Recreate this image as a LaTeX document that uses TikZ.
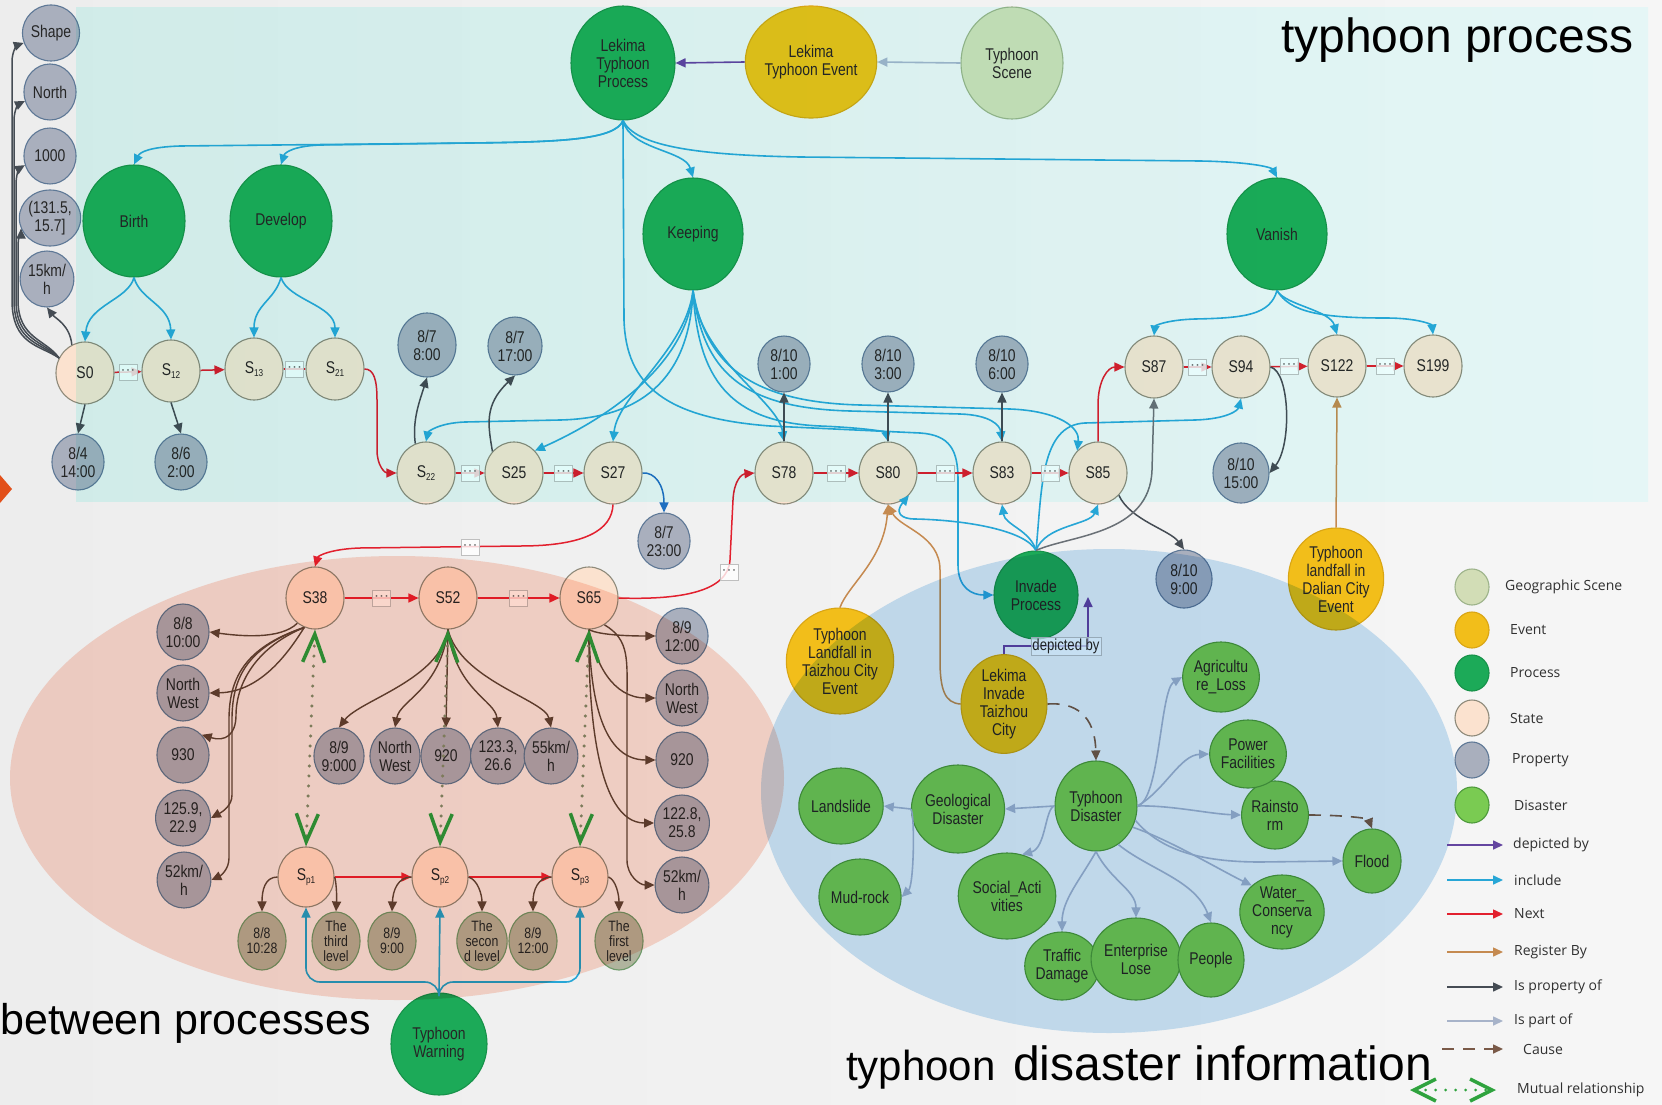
\documentclass[tikz,border=0pt]{standalone}
\usepackage{fontspec}
\setmainfont{Liberation Sans}
\newfontfamily\nodefont[FakeStretch=0.82]{Liberation Sans}
\newfontfamily\legfont{Open Sans}
\usetikzlibrary{shapes.geometric,arrows.meta,calc}

\definecolor{cBgL}{HTML}{EDEDED}
\definecolor{cBgR}{HTML}{F6F6F6}
\definecolor{cProc}{HTML}{1CAA58}
\definecolor{cProcB}{HTML}{17924A}
\definecolor{cEvt}{HTML}{F2BE1A}
\definecolor{cEvtB}{HTML}{D9A514}
\definecolor{cGeo}{HTML}{D2DDB6}
\definecolor{cGeoB}{HTML}{9DB38A}
\definecolor{cState}{HTML}{FBE2CF}
\definecolor{cStateB}{HTML}{8E8A7A}
\definecolor{cProp}{HTML}{A9AFBD}
\definecolor{cPropB}{HTML}{5E7896}
\definecolor{cLev}{HTML}{B0B49E}
\definecolor{cLevB}{HTML}{6E9A6A}
\definecolor{cDis}{HTML}{7ACB52}
\definecolor{cDisB}{HTML}{4E9A3C}
\definecolor{cInc}{HTML}{27A6D6}
\definecolor{cNext}{HTML}{E2202E}
\definecolor{cReg}{HTML}{C58A50}
\definecolor{cIsProp}{HTML}{454C54}
\definecolor{cIsPropB}{HTML}{5E4636}
\definecolor{cPart}{HTML}{A7B3C9}
\definecolor{cCause}{HTML}{7A5A48}
\definecolor{cDep}{HTML}{6445A0}
\definecolor{cMut}{HTML}{2FA33E}
\definecolor{cMutDot}{HTML}{7E9070}
\definecolor{cBlueArr}{HTML}{1F6FC0}
\definecolor{cCyanL}{HTML}{E0FDFA}
\definecolor{cCyanR}{HTML}{EEFFFF}
\definecolor{cSalmon}{HTML}{FDDACF}
\definecolor{cBlue}{HTML}{CAE3F6}
\definecolor{cOrange}{HTML}{E2501A}
\definecolor{cLegTxt}{HTML}{303030}

\newcommand\ndfont{\nodefont\fontsize{17}{18}\selectfont}
\newcommand\ssub[1]{\raisebox{-3pt}{\fontsize{10}{10}\selectfont#1}}

\begin{document}
\begin{tikzpicture}[x=1pt,y=-1pt,
  nd/.style={ellipse, inner sep=0pt, align=center, font=\ndfont, text=black!85, line width=1.1pt},
  sz/.style 2 args={minimum width=#1pt, minimum height=#2pt},
  procN/.style={nd, fill=cProc, draw=cProcB},
  evtN/.style={nd, fill=cEvt, draw=cEvtB},
  geoN/.style={nd, fill=cGeo, draw=cGeoB},
  stateN/.style={nd, fill=cState, draw=cStateB, sz={58}{62}},
  propN/.style={nd, fill=cProp, draw=cPropB, sz={52}{56}},
  levN/.style={nd, fill=cLev, draw=cLevB, sz={48}{58}, font=\nodefont\fontsize{15}{15}\selectfont},
  disN/.style={nd, fill=cDis, draw=cDisB},
  dotbox/.style={rectangle, inner sep=0pt, minimum width=18pt, minimum height=16pt, fill=white, fill opacity=0.8, text opacity=1, draw=black!25, line width=0.6pt, font=\fontsize{15}{15}\selectfont, text=black!60},
  dlab/.style={rectangle, inner sep=1.5pt, fill=white, fill opacity=0.7, text opacity=1, draw=black!25, line width=0.5pt, font=\nodefont\fontsize{16}{16}\selectfont, text=black!85},
  arr/.style={-{Triangle[length=10pt,width=9pt]}},
  incl/.style={arr, draw=cInc, line width=1.6pt},
  nxt/.style={arr, draw=cNext, line width=1.5pt},
  nxtplain/.style={draw=cNext, line width=1.5pt},
  ispr/.style={arr, draw=cIsProp, line width=1.5pt},
  isprb/.style={arr, draw=cIsPropB, line width=1.4pt},
  prt/.style={arr, draw=cPart, line width=1.6pt},
  reg/.style={arr, draw=cReg, line width=1.5pt},
  cse/.style={arr, draw=cCause, line width=1.6pt, dash pattern=on 12pt off 9pt},
  dep/.style={arr, draw=cDep, line width=1.6pt},
  mut/.style={draw=cMutDot, line width=3.4pt, line cap=round, dash pattern=on 0pt off 10pt,
    {Straight Barb[color=cMut,line width=3.5pt,length=28pt,width=22pt]}-{Straight Barb[color=cMut,line width=3.5pt,length=28pt,width=22pt]}},
  mutleg/.style={draw=cMut, line width=3pt, line cap=round, dash pattern=on 0pt off 10pt,
    {Straight Barb[color=cMut,line width=3.5pt,length=22pt,width=22pt]}-{Straight Barb[color=cMut,line width=3.5pt,length=22pt,width=22pt]}},
  legtxt/.style={anchor=west, inner sep=0pt, font=\legfont\fontsize{14}{16}\selectfont, text=cLegTxt},
  bigtxt/.style={anchor=base west, inner sep=0pt, text=black}
]
\useasboundingbox (0,0) rectangle (1662,1105);
\shade[left color=cBgL, right color=cBgR] (0,0) rectangle (1662,1105);
\fill[cOrange] (0,475) -- (12,489) -- (0,503) -- cycle;

% ---------- top: process, event, scene
\node[procN,sz={104}{114}] (ltp) at (623,63) {Lekima\\Typhoon\\Process};
\node[evtN,sz={102}{112}] (lte) at (811,62) {Lekima\\Typhoon Event};
\node[geoN,sz={102}{112}] (ts) at (1012,63) {Typhoon\\Scene};

\node[procN,sz={102}{112}] (birth) at (134,221) {Birth};
\node[procN,sz={102}{112}] (develop) at (281,221) {Develop};
\node[procN,sz={100}{112}] (keeping) at (693,234) {Keeping};
\node[procN,sz={100}{112}] (vanish) at (1277,234) {Vanish};

% ---------- property column on the left
\node[propN] (pshape) at (51,33) {Shape};
\node[propN] (pnorth) at (50,92) {North};
\node[propN] (p1000) at (50,156) {1000};
\node[propN] (pcoord) at (50,218) {(131.5,\\15.7]};
\node[propN] (pspeed) at (47,279) {15km/\\h};

% ---------- states, upper chain
\node[stateN] (s0) at (85,373) {S0};
\node[stateN] (s12) at (171,371) {S\ssub{12}};
\node[stateN] (s13) at (254,369) {S\ssub{13}};
\node[stateN] (s21) at (335,369) {S\ssub{21}};
\node[stateN] (s22) at (426,473) {S\ssub{22}};
\node[stateN] (s25) at (514,473) {S25};
\node[stateN] (s27) at (613,473) {S27};
\node[stateN] (s78) at (784,473) {S78};
\node[stateN] (s80) at (888,473) {S80};
\node[stateN] (s83) at (1002,473) {S83};
\node[stateN] (s85) at (1098,473) {S85};
\node[stateN] (s87) at (1154,367) {S87};
\node[stateN] (s94) at (1241,367) {S94};
\node[stateN] (s122) at (1337,366) {S122};
\node[stateN] (s199) at (1433,366) {S199};

% ---------- time properties
\node[propN] (p84) at (78,462) {8/4\\14:00};
\node[propN] (p86) at (181,462) {8/6\\2:00};
\node[propN,sz={58}{64}] (p878) at (427,345) {8/7\\8:00};
\node[propN,sz={54}{58}] (p8717) at (515,346) {8/7\\17:00};
\node[propN] (p8723) at (664,541) {8/7\\23:00};
\node[propN] (p8101) at (784,364) {8/10\\1:00};
\node[propN] (p8103) at (888,364) {8/10\\3:00};
\node[propN] (p8106) at (1002,364) {8/10\\6:00};
\node[propN,sz={56}{60}] (p81015) at (1241,473) {8/10\\15:00};
\node[propN,sz={56}{58}] (p8109) at (1184,579) {8/10\\9:00};

% ---------- events and invade process
\node[evtN,sz={92}{106}] (evtz) at (840,661) {Typhoon\\Landfall in\\Taizhou City\\Event};
\node[evtN,sz={86}{92}] (evinv) at (1004,704) {Lekima\\Invade\\Taizhou\\City};
\node[evtN,sz={92}{102}] (evdl) at (1336,579) {Typhoon\\landfall in\\Dalian City\\Event};
\node[procN,sz={84}{88}] (invade) at (1036,595) {Invade\\Process};

% ---------- warning process and its states
\node[stateN] (s38) at (315,598) {S38};
\node[stateN] (s52) at (448,598) {S52};
\node[stateN] (s65) at (589,598) {S65};
\node[stateN,sz={56}{60}] (sp1) at (306,877) {S\ssub{p1}};
\node[stateN,sz={56}{60}] (sp2) at (440,877) {S\ssub{p2}};
\node[stateN,sz={56}{60}] (sp3) at (580,877) {S\ssub{p3}};
\node[procN,sz={96}{102}] (warning) at (439,1044) {Typhoon\\Warning};

\node[propN] (a1) at (183,632) {8/8\\10:00};
\node[propN] (a2) at (183,693) {North\\West};
\node[propN] (a3) at (183,755) {930};
\node[propN] (a4) at (183,818) {125.9,\\22.9};
\node[propN] (a5) at (184,880) {52km/\\h};

\node[propN,sz={50}{56}] (b1) at (339,756) {8/9\\9:000};
\node[propN,sz={50}{56}] (b2) at (395,756) {North\\West};
\node[propN,sz={50}{56}] (b3) at (446,756) {920};
\node[propN,sz={50}{56}] (b4) at (498,756) {123.3,\\26.6};
\node[propN,sz={50}{56}] (b5) at (551,756) {55km/\\h};

\node[propN] (c1) at (682,636) {8/9\\12:00};
\node[propN] (c2) at (682,698) {North\\West};
\node[propN] (c3) at (682,760) {920};
\node[propN] (c4) at (682,823) {122.8,\\25.8};
\node[propN] (c5) at (682,885) {52km/\\h};

\node[levN] (d1) at (262,941) {8/8\\10:28};
\node[levN] (d2) at (336,941) {The\\third\\level};
\node[levN] (d3) at (392,941) {8/9\\9:00};
\node[levN] (d4) at (482,941) {The\\secon\\d level};
\node[levN] (d5) at (533,941) {8/9\\12:00};
\node[levN] (d6) at (619,941) {The\\first\\level};

% ---------- disaster information
\node[disN,sz={82}{90}] (tdis) at (1096,806) {Typhoon\\Disaster};
\node[disN,sz={74}{88}] (gdis) at (958,809) {Geological\\Disaster};
\node[disN,sz={70}{76}] (slide) at (841,806) {Landslide};
\node[disN,sz={70}{76}] (mud) at (860,897) {Mud-rock};
\node[disN,sz={76}{86}] (social) at (1007,896) {Social\_Acti\\vities};
\node[disN,sz={64}{68}] (traffic) at (1062,966) {Traffic\\Damage};
\node[disN,sz={74}{82}] (enterprise) at (1136,959) {Enterprise\\Lose};
\node[disN,sz={66}{74}] (people) at (1211,960) {People};
\node[disN,sz={66}{74}] (water) at (1282,912) {Water\_\\Conserva\\ncy};
\node[disN,sz={58}{64}] (flood) at (1372,861) {Flood};
\node[disN,sz={64}{68}] (rain) at (1275,815) {Rainsto\\rm};
\node[disN,sz={62}{68}] (power) at (1248,754) {Power\\Facilities};
\node[disN,sz={60}{70}] (agri) at (1221,677) {Agricultu\\re\_Loss};

% ---------- include links
\draw[incl] (ltp.south) .. controls (615,140) and (560,142) .. (470,143) -- (180,146) .. controls (150,147) and (140,152) .. (birth.north);
\draw[incl] (ltp.south) .. controls (615,140) and (560,142) .. (470,143) -- (320,145) .. controls (295,146) and (285,152) .. (develop.north);
\draw[incl] (ltp.south) .. controls (630,150) and (685,150) .. (keeping.north);
\draw[incl] (ltp.south) .. controls (635,145) and (690,155) .. (800,157) -- (1200,161) .. controls (1255,162) and (1272,168) .. (vanish.north);
\draw[incl] (ltp.south) -- (624,320) .. controls (626,385) and (665,418) .. (770,426) -- (920,433) .. controls (950,435) and (958,450) .. (958,480) -- (958,565) .. controls (958,588) and (972,595) .. (invade.west);

\draw[incl] (birth.south) .. controls (128,300) and (88,305) .. (s0.north);
\draw[incl] (birth.south) .. controls (140,300) and (170,305) .. (s12.north);
\draw[incl] (develop.south) .. controls (275,300) and (254,305) .. (s13.north);
\draw[incl] (develop.south) .. controls (288,300) and (335,305) .. (s21.north);

\draw[incl] (keeping.south) .. controls (690,370) and (650,418) .. (560,420) -- (465,422) .. controls (438,423) and (428,432) .. (s22.north);
\draw[incl] (keeping.south) .. controls (688,360) and (615,415) .. (s25.north east);
\draw[incl] (keeping.south) .. controls (686,350) and (618,395) .. (s27.north);
\draw[incl] (keeping.south) .. controls (700,360) and (778,400) .. (s78.north);
\draw[incl] (keeping.south) .. controls (698,380) and (730,422) .. (820,426) .. controls (868,428) and (886,432) .. (s80.north);
\draw[incl] (keeping.south) .. controls (703,370) and (740,408) .. (850,411) -- (960,414) .. controls (990,415) and (1000,425) .. (s83.north);
\draw[incl] (keeping.south) .. controls (705,360) and (745,402) .. (860,405) -- (1010,409) .. controls (1060,411) and (1080,428) .. (s85.north west);

\draw[incl] (vanish.south) .. controls (1270,315) and (1245,318) .. (1195,319) .. controls (1165,320) and (1155,326) .. (s87.north);
\draw[incl] (vanish.south) .. controls (1285,305) and (1330,310) .. (s122.north);
\draw[incl] (vanish.south) .. controls (1290,312) and (1320,318) .. (1385,318) .. controls (1420,318) and (1432,325) .. (s199.north);

\draw[incl] (invade.north) .. controls (1025,530) and (965,520) .. (915,519) .. controls (900,519) and (895,512) .. (s80.south east);
\draw[incl] (invade.north) .. controls (1030,530) and (1005,525) .. (s83.south);
\draw[incl] (invade.north) .. controls (1045,525) and (1090,525) .. (s85.south);
\draw[incl] (invade.north) .. controls (1042,490) and (1040,425) .. (1085,423) -- (1195,420) .. controls (1228,419) and (1238,410) .. (s94.south);

\draw[incl, rounded corners=14pt] (warning.north) -- (439,982) -| (sp1.south);
\draw[incl] (warning.north) -- (sp2.south);
\draw[incl, rounded corners=14pt] (warning.north) -- (439,982) -| (sp3.south);

% ---------- next links
\draw[nxt] (s0) -- node[dotbox] (k1) {···} (s12);
\draw[nxt] (s12) -- (s13);
\draw[nxtplain] (s13) -- node[dotbox] (k2) {···} (s21);
\draw[nxt] (s21.east) .. controls (374,369) and (377,380) .. (377,400) -- (377,450) .. controls (377,466) and (385,473) .. (s22.west);
\draw[nxt] (s22) -- node[dotbox] (k3) {···} (s25);
\draw[nxt] (s25) -- node[dotbox] (k4) {···} (s27);
\draw[nxt] (s27.south) .. controls (612,530) and (585,546) .. (520,546) -- (360,548) .. controls (330,549) and (318,556) .. (s38.north);
\node[dotbox] (k5) at (470,547) {···};
\draw[nxt] (s38) -- node[dotbox] (k6) {···} (s52);
\draw[nxt] (s52) -- node[dotbox] (k7) {···} (s65);
\draw[nxt] (s65.east) .. controls (680,600) and (728,592) .. (730,560) -- (733,500) .. controls (734,480) and (742,474) .. (s78.west);
\node[dotbox] (k8) at (729,572) {···};
\draw[nxt] (s78) -- node[dotbox] (k9) {···} (s80);
\draw[nxt] (s80) -- node[dotbox] (k10) {···} (s83);
\draw[nxt] (s83) -- node[dotbox] (k11) {···} (s85);
\draw[nxt] (s85.north) -- (1098,405) .. controls (1098,380) and (1108,367) .. (s87.west);
\draw[nxt] (s87) -- node[dotbox] (k12) {···} (s94);
\draw[nxt] (s94) -- node[dotbox] (k13) {···} (s122);
\draw[nxt] (s122) -- node[dotbox] (k14) {···} (s199);
\draw[nxt] (sp1) -- (sp2);
\draw[nxt] (sp2) -- (sp3);

% ---------- property links
\draw[ispr] (s0.south) -- (p84.north);
\draw[ispr] (s12.south) -- (p86.north);
\draw[ispr] (s0.115) .. controls (70,325) and (55,318) .. (pspeed.south);
\draw[ispr] (s0.150) .. controls (40,345) and (12,345) .. (12,300) -- (12,62) .. controls (12,50) and (18,45) .. (pshape.200);
\draw[ispr] (s0.150) .. controls (42,343) and (14,343) .. (14,300) -- (14,121) .. controls (14,109) and (19,104) .. (pnorth.200);
\draw[ispr] (s0.150) .. controls (44,341) and (16,341) .. (16,300) -- (16,185) .. controls (16,173) and (20,168) .. (p1000.200);
\draw[ispr] (s0.150) .. controls (46,339) and (18,339) .. (18,300) -- (18,247) .. controls (18,236) and (21,231) .. (pcoord.200);
\draw[ispr] (s22.110) .. controls (412,420) and (420,400) .. (p878.south);
\draw[ispr] (s25.135) .. controls (488,425) and (484,405) .. (p8717.south);
\draw[arr, draw=cBlueArr, line width=1.5pt] (s27.east) .. controls (655,472) and (664,485) .. (p8723.north);
\draw[ispr] (s78.north) -- (p8101.south);
\draw[ispr] (s80.north) -- (p8103.south);
\draw[ispr] (s83.north) -- (p8106.south);
\draw[ispr] (s85.south east) .. controls (1130,520) and (1170,530) .. (p8109.north);
\draw[ispr] (s94.east) .. controls (1290,372) and (1292,445) .. (p81015.east);
\draw[ispr, draw=cIsProp!80] (invade.north) .. controls (1070,535) and (1150,535) .. (1152,470) -- (s87.south);

\draw[isprb] (s38.235) .. controls (280,640) and (240,636) .. (a1.east);
\draw[isprb] (s38.250) .. controls (290,650) and (262,692) .. (a2.east);
\draw[isprb] (s38.250) .. controls (250,650) and (236,690) .. (236,715) .. controls (236,735) and (225,742) .. (a3.north east);
\draw[isprb] (s38.250) .. controls (245,648) and (232,680) .. (232,720) -- (232,795) .. controls (232,806) and (222,812) .. (a4.east);
\draw[isprb] (s38.250) .. controls (243,648) and (229,680) .. (229,720) -- (229,858) .. controls (229,870) and (220,876) .. (a5.east);

\draw[isprb] (s52.south) .. controls (440,680) and (360,700) .. (b1.north);
\draw[isprb] (s52.south) .. controls (440,690) and (400,700) .. (b2.north);
\draw[isprb] (s52.south) -- (b3.north);
\draw[isprb] (s52.south) .. controls (455,690) and (495,700) .. (b4.north);
\draw[isprb] (s52.south) .. controls (460,680) and (545,700) .. (b5.north);

\draw[isprb] (s65.south) .. controls (600,636) and (640,636) .. (c1.west);
\draw[isprb] (s65.south) .. controls (595,662) and (612,698) .. (c2.west);
\draw[isprb] (s65.south) .. controls (590,685) and (598,760) .. (c3.west);
\draw[isprb] (s65.south) .. controls (588,705) and (596,823) .. (c4.west);
\draw[isprb] (s65.300) .. controls (630,640) and (627,660) .. (627,700) -- (627,860) .. controls (627,876) and (640,885) .. (c5.west);

\draw[isprb] (sp1.west) .. controls (265,877) and (262,890) .. (d1.north);
\draw[isprb] (sp1.east) .. controls (336,880) and (337,895) .. (d2.north);
\draw[isprb] (sp2.west) .. controls (398,877) and (393,890) .. (d3.north);
\draw[isprb] (sp2.east) .. controls (478,880) and (482,895) .. (d4.north);
\draw[isprb] (sp3.west) .. controls (538,877) and (533,890) .. (d5.north);
\draw[isprb] (sp3.east) .. controls (616,880) and (619,895) .. (d6.north);

% ---------- mutual relationships
\draw[mut] (s38.south) -- (sp1.north);
\draw[mut] (s52.south) -- (sp2.north);
\draw[mut] (s65.south) -- (sp3.north);

% ---------- register, depicted, cause
\draw[reg] (evtz.north) .. controls (848,585) and (884,560) .. (s80.south);
\draw[reg] (evinv.west) .. controls (945,703) and (940,690) .. (940,660) -- (940,570) .. controls (940,535) and (900,528) .. (s80.south);
\draw[reg] (evdl.north) -- (s122.south);

\draw[dep] (lte.west) -- (ltp.east);
\coordinate (dpend) at (1088,597);
\draw[dep] (evinv.north) |- (1088,646) -- (dpend);
\node[dlab] (dlabel) at (1066,646) {depicted by};

\draw[cse] (evinv.east) .. controls (1075,702) and (1095,715) .. (tdis.north);
\draw[cse] (rain.east) .. controls (1340,815) and (1368,818) .. (flood.north);

% ---------- is part of
\draw[prt] (ts.west) -- (lte.east);
\draw[prt] (tdis.west) -- (gdis.east);
\draw[prt] (gdis.west) -- (slide.east);
\draw[prt] (gdis.west) .. controls (915,815) and (914,885) .. (mud.east);
\draw[prt] (tdis.west) .. controls (1045,808) and (1046,848) .. (social.70);
\draw[prt] (tdis.south) .. controls (1080,880) and (1062,900) .. (traffic.north);
\draw[prt] (tdis.south) .. controls (1110,880) and (1136,890) .. (enterprise.north);
\draw[prt] (tdis.-60) .. controls (1150,870) and (1195,880) .. (people.north);
\draw[prt] (tdis.-30) .. controls (1170,840) and (1220,870) .. (water.north west);
\draw[prt] (tdis.-20) .. controls (1160,850) and (1200,862) .. (1260,862) -- (flood.west);
\draw[prt] (tdis.east) .. controls (1170,805) and (1210,814) .. (rain.west);
\draw[prt] (tdis.east) .. controls (1165,790) and (1180,755) .. (power.west);
\draw[prt] (tdis.east) .. controls (1160,800) and (1160,690) .. (agri.west);

% ---------- translucent regions
\begin{scope}[blend mode=multiply]
  \shade[left color=cCyanL, right color=cCyanR] (76,8) rectangle (1648,501);
  \fill[cSalmon] (397,778) ellipse [x radius=387, y radius=222];
  \fill[cBlue] (1109,791) ellipse [x radius=348, y radius=242];
\end{scope}

% ---------- region titles
\node[bigtxt, font=\fontsize{48}{50}\selectfont] (t1) at (1281,53) {typhoon process};
\node[bigtxt, font=\fontsize{43}{45}\selectfont] (t2) at (0,1034) {between processes};
\node[bigtxt, font=\fontsize{42}{44}\selectfont] (t3) at (846,1080) {typhoon};
\node[bigtxt, font=\fontsize{48}{50}\selectfont] (t4) at (1013,1080) {disaster information};

% ---------- legend
\node[geoN,sz={34}{36}] (lg1) at (1472,587) {};
\node[evtN,sz={34}{36}] (lg2) at (1472,630) {};
\node[procN,sz={34}{36}] (lg3) at (1472,673) {};
\node[stateN,sz={34}{36}] (lg4) at (1472,718) {};
\node[propN,sz={34}{36}] (lg5) at (1472,760) {};
\node[disN,sz={34}{36}] (lg6) at (1472,805) {};
\node[legtxt] (lt1) at (1505,587) {Geographic Scene};
\node[legtxt] (lt2) at (1510,630) {Event};
\node[legtxt] (lt3) at (1510,673) {Process};
\node[legtxt] (lt4) at (1510,718) {State};
\node[legtxt] (lt5) at (1512,760) {Property};
\node[legtxt] (lt6) at (1514,805) {Disaster};

\coordinate (la1) at (1447,845); \coordinate (lb1) at (1503,845);
\coordinate (la2) at (1447,880); \coordinate (lb2) at (1503,880);
\coordinate (la3) at (1447,914); \coordinate (lb3) at (1503,914);
\coordinate (la4) at (1447,952); \coordinate (lb4) at (1503,952);
\coordinate (la5) at (1447,987); \coordinate (lb5) at (1503,987);
\coordinate (la6) at (1447,1021); \coordinate (lb6) at (1503,1021);
\coordinate (la7) at (1442,1049); \coordinate (lb7) at (1503,1049);
\coordinate (la8) at (1410,1090); \coordinate (lb8) at (1496,1090);
\draw[dep] (la1) -- (lb1);
\draw[incl] (la2) -- (lb2);
\draw[nxt] (la3) -- (lb3);
\draw[reg] (la4) -- (lb4);
\draw[ispr] (la5) -- (lb5);
\draw[prt] (la6) -- (lb6);
\draw[cse] (la7) -- (lb7);
\draw[mutleg] (la8) -- (lb8);
\node[legtxt] (lt7) at (1513,845) {depicted by};
\node[legtxt] (lt8) at (1514,880) {include};
\node[legtxt] (lt9) at (1514,914) {Next};
\node[legtxt] (lt10) at (1514,952) {Register By};
\node[legtxt] (lt11) at (1514,987) {Is property of};
\node[legtxt] (lt12) at (1514,1021) {Is part of};
\node[legtxt] (lt13) at (1523,1049) {Cause};
\node[legtxt] (lt14) at (1517,1090) {Mutual relationship};
\end{tikzpicture}
\end{document}
